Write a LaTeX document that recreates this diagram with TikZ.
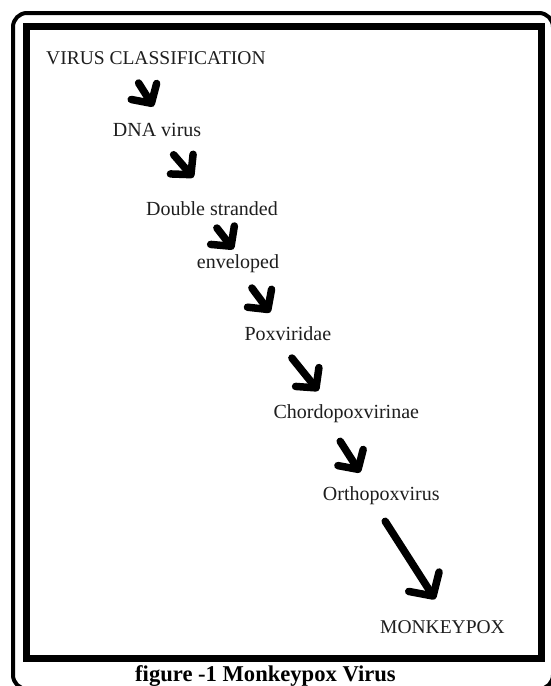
\documentclass[tikz,border=0pt]{standalone}
\usepackage{fontspec}
\setmainfont{Liberation Serif}
\usetikzlibrary{arrows.meta}
\definecolor{Ink}{HTML}{1E1E1E}

\begin{document}
\begin{tikzpicture}[x=1pt,y=-1pt,
    lbl/.style={anchor=base west,inner sep=0pt,text=Ink,font=\fontsize{20}{24}\selectfont},
    capslbl/.style={lbl,font=\fontsize{19.5}{23}\selectfont},
    captionlbl/.style={lbl,text=black,font=\fontsize{22.6}{27}\selectfont\bfseries},
    bigarr/.style={line width=7.5pt,line cap=round,-{Straight Barb[length=14pt,width=30pt,round]}},
    longarr/.style={bigarr,-{Straight Barb[length=17pt,width=36pt,round]}}]
    \useasboundingbox (0,0) rectangle (550,686);
    \fill[white] (0,0) rectangle (550,686);

    % frames
    \draw[line width=4pt,rounded corners=14pt] (13,13) rectangle (553,689);
    \draw[line width=7pt] (26,26) rectangle (541,658);

    % classification steps
    \node[capslbl] (vc) at (46,64) {VIRUS CLASSIFICATION};
    \node[lbl] (dna) at (112.7,136) {DNA virus};
    \node[lbl] (dstr) at (146,215) {Double stranded};
    \node[lbl] (env) at (196.7,268) {enveloped};
    \node[lbl] (pox) at (244.3,340) {Poxviridae};
    \node[lbl] (chordo) at (273.3,418.3) {Chordopoxvirinae};
    \node[lbl] (ortho) at (322.7,500) {Orthopoxvirus};
    \node[capslbl] (mpox) at (380,633.3) {MONKEYPOX};

    \node[captionlbl] (figcap) at (135,681) {figure -1 Monkeypox Virus};

    % arrow ends
    \coordinate (a1s) at (138.6,83);    \coordinate (a1t) at (153.4,106.5);
    \coordinate (a2s) at (173.6,154.7); \coordinate (a2t) at (193.4,177.5);
    \coordinate (a3s) at (216.9,228);   \coordinate (a3t) at (233.4,249.2);
    \coordinate (a4s) at (251.9,288);   \coordinate (a4t) at (270.1,312.5);
    \coordinate (a5s) at (291.9,358);   \coordinate (a5t) at (318.4,390.8);
    \coordinate (a6s) at (340.2,441.3); \coordinate (a6t) at (360.1,472.5);
    \coordinate (a7s) at (385.2,521.3); \coordinate (a7t) at (435.1,599.2);

    \foreach \i in {1,...,6}{\draw[bigarr] (a\i s) -- (a\i t);}
    \draw[longarr] (a7s) -- (a7t);
  \end{tikzpicture}
\end{document}
